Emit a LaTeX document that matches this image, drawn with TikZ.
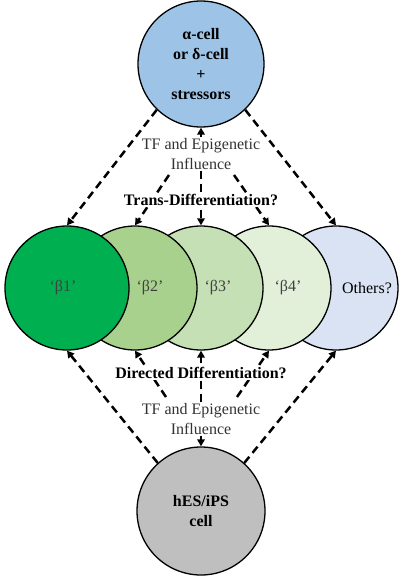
\documentclass[tikz,border=0pt]{standalone}
\usepackage{fontspec}
\setmainfont{Liberation Serif}
\usetikzlibrary{arrows.meta, backgrounds}
\definecolor{alphablue}{HTML}{9DC3E6}
\definecolor{betaone}{HTML}{00B050}
\definecolor{betatwo}{HTML}{A9D18E}
\definecolor{betathree}{HTML}{C5E0B4}
\definecolor{betafour}{HTML}{E2F0D9}
\definecolor{otherblue}{HTML}{DAE3F3}
\definecolor{stemgray}{HTML}{BFBFBF}

\begin{document}
\begin{tikzpicture}[
  x=1pt, y=-1pt,
  font=\fontsize{16}{19.5}\selectfont,
  >={Triangle[length=7pt, width=7.5pt]},
  cell/.style={circle, draw, line width=1.3pt, fill=#1, inner sep=0pt,
               minimum size=124pt, align=center},
  darr/.style={->, line width=2.5pt, dash pattern=on 8pt off 5pt},
  infl/.style={fill=white, inner sep=1pt, align=center, text=black!80},
  qlbl/.style={fill=white, inner sep=1pt, font=\fontsize{16}{19.5}\selectfont\bfseries},
  ctxt/.style={text=black!75},
  btxt/.style={align=center, font=\fontsize{16}{20}\selectfont\bfseries},
]
\useasboundingbox (0,0) rectangle (403,576);

%% ===== LABELS (on top, white behind) =====

\node[infl] (tftop) at (201,154) {TF and Epigenetic\\Influence};
\node[qlbl] (trans) at (201,200) {Trans-Differentiation?};
\node[qlbl] (directed) at (201,373) {Directed Differentiation?};
\node[infl] (tfbot) at (201,419) {TF and Epigenetic\\Influence};

%% texts of the overlapping cells
\node[ctxt] (tone)   at (63,288)  {‘β1’};
\node[ctxt] (ttwo)   at (150,288) {‘β2’};
\node[ctxt] (tthree) at (218,288) {‘β3’};
\node[ctxt] (tfour)  at (288,288) {‘β4’};
\node       (tother) at (367,288) {Others?};

\begin{pgfonlayer}{background}

%% ===== CELLS =====

\node[cell=alphablue, minimum size=126pt, btxt]
    (alpha) at (201,64) {α-cell\\or δ-cell\\+\\stressors};

\node[cell=otherblue] (others) at (336,288) {};
\node[cell=betafour]  (bfour)  at (269,288) {};
\node[cell=betathree] (bthree) at (201,288) {};
\node[cell=betatwo]   (btwo)   at (135,288) {};
\node[cell=betaone]   (bone)   at (67,288)  {};

\node[cell=stemgray, minimum size=128pt, btxt]
    (hes) at (201,511) {hES/iPS\\cell};

%% ===== ARROWS =====

\coordinate (tl) at (169,175);
\coordinate (tr) at (234,175);
\coordinate (bl) at (166,397);
\coordinate (br) at (237,397);

\draw[darr] (alpha.226) -- (bone.north);
\draw[darr] (alpha.314) -- (others.north);
\draw[darr] (tftop.north) -- (alpha.south);
\draw[darr] (tl) -- (btwo.north);
\draw[darr] (tftop.south) -- (bthree.north);
\draw[darr] (tr) -- (bfour.north);

\draw[darr] (hes.132) -- (bone.south);
\draw[darr] (hes.48)  -- (others.south);
\draw[darr] (tfbot.south) -- (hes.north);
\draw[darr] (bl) -- (btwo.south);
\draw[darr] (tfbot.north) -- (bthree.south);
\draw[darr] (br) -- (bfour.south);

\end{pgfonlayer}

\end{tikzpicture}
\end{document}
